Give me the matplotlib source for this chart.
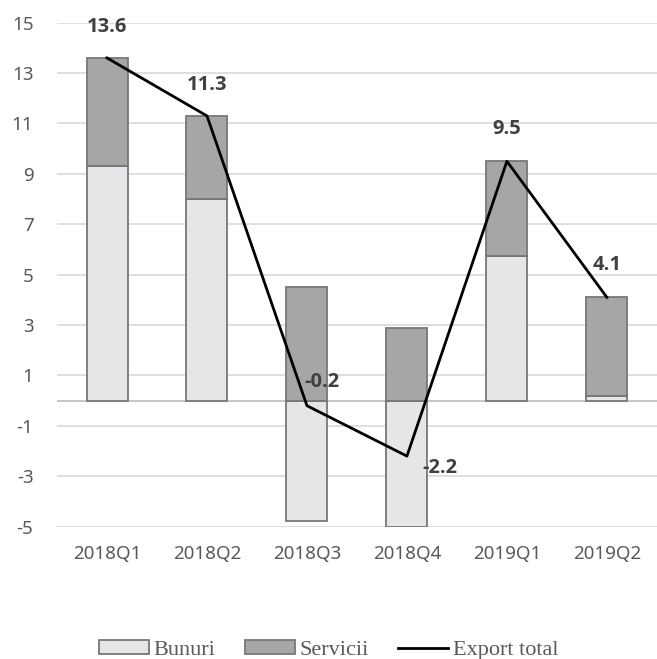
import matplotlib
matplotlib.use("Agg")
import matplotlib.pyplot as plt
import numpy as np

plt.rcParams["axes.unicode_minus"] = False

categories = ["2018Q1", "2018Q2", "2018Q3", "2018Q4", "2019Q1", "2019Q2"]
bunuri = [9.33, 7.99, -4.76, -5.02, 5.74, 0.19]
servicii = [4.27, 3.31, 4.52, 2.87, 3.76, 3.91]
export_total = [13.6, 11.3, -0.2, -2.2, 9.5, 4.1]
yticks = [-5, -3, -1, 1, 3, 5, 7, 9, 11, 13, 15]

fig = plt.figure(figsize=(6.57, 6.59), dpi=100)
ax = fig.add_axes([0.0868, 0.2008, 0.913, 0.7648])

x = np.arange(len(categories))
w = 0.41
edge = "#7a7676"

serv_bottom = [b if b > 0 else 0 for b in bunuri]
b1 = ax.bar(x, bunuri, w, color="#e6e6e8", edgecolor=edge, linewidth=1.3, label="Bunuri", zorder=3)
b2 = ax.bar(x, servicii, w, bottom=serv_bottom, color="#a6a6a6", edgecolor=edge, linewidth=1.3,
            label="Servicii", zorder=3)
l1, = ax.plot(x, export_total, color="black", linewidth=2, label="Export total", zorder=4)

offsets = [(0, 31, "center"), (0, 31, "center"), (-3, 24, "left"),
           (15, -12, "left"), (0, 32, "center"), (0, 32, "center")]
for xi, v, (dx, dy, ha) in zip(x, export_total, offsets):
    ax.annotate(f"{v:.1f}", (xi, v), xytext=(dx, dy), textcoords="offset pixels",
                ha=ha, va="center", fontsize=14.5, fontweight="bold", color="#404040",
                family="Open Sans", zorder=5)

ax.set_xlim(-0.5, len(categories) - 0.5)
ax.set_ylim(-5, 15)
ax.set_yticks(yticks)
ax.set_xticks(x)
ax.set_xticklabels(categories)
ax.yaxis.grid(True, color="#d9d9d9", linewidth=1.2, zorder=0)
ax.axhline(0, color="#c8c8c8", linewidth=1.5, zorder=1)
for s in ax.spines.values():
    s.set_visible(False)
ax.tick_params(length=0, labelsize=13.5, labelcolor="#595959")
for lab in ax.get_xticklabels() + ax.get_yticklabels():
    lab.set_family("Noto Sans")
ax.tick_params(axis="x", pad=13)
ax.tick_params(axis="y", pad=17)

leg = fig.legend([b1, b2, l1], ["Bunuri", "Servicii", "Export total"], loc="center",
                 bbox_to_anchor=(0.5, 1 - 650 / 659), ncol=3,
                 frameon=False, prop={"family": "Liberation Serif", "size": 16},
                 handlelength=2.25, handleheight=0.6, handletextpad=0.22, columnspacing=1.3,
                 labelcolor="#595959")

fig.savefig("out.png", dpi=100)
